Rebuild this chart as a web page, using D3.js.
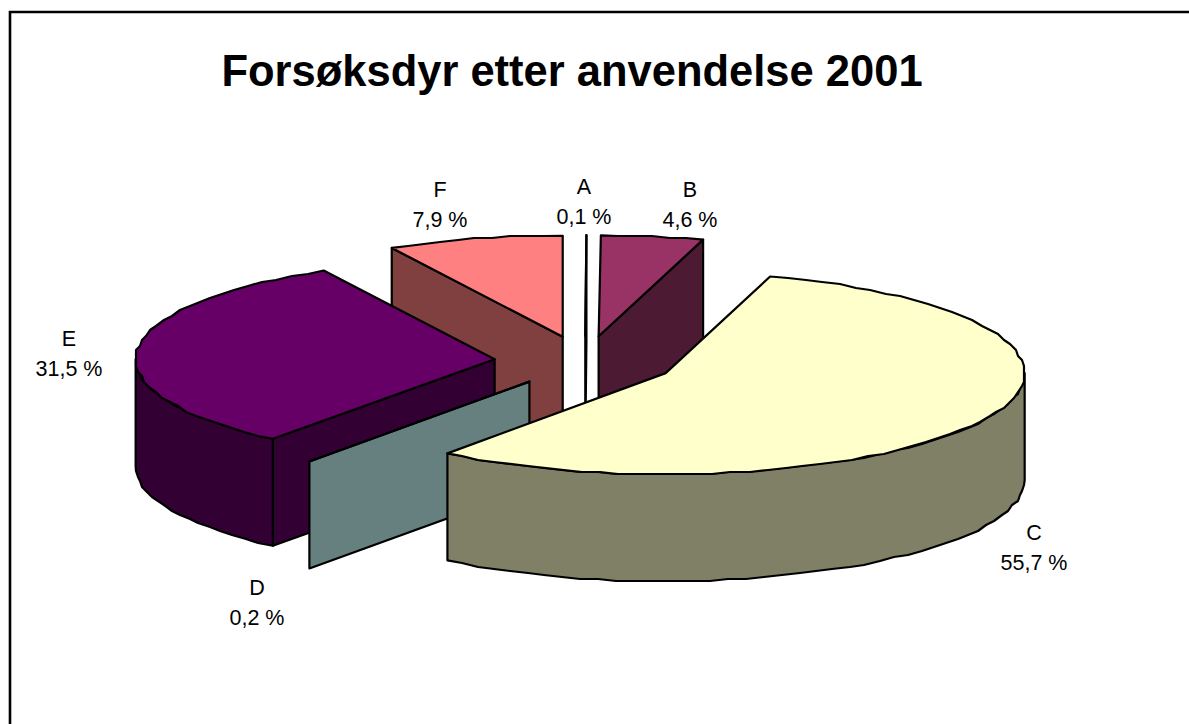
<!DOCTYPE html>
<html>
<head>
<meta charset="utf-8">
<style>
  html, body { margin: 0; padding: 0; background: #fff; }
  svg { display: block; }
  text { font-family: "Liberation Sans", Arial, sans-serif; fill: #000; }
</style>
</head>
<body>
<svg id="chart"></svg>
<script src="https://cdn.jsdelivr.net/npm/d3@7"></script>
<script>
const categories = ['A', 'B', 'C', 'D', 'E', 'F'];
const shares = [0.1, 4.6, 55.7, 0.2, 31.5, 7.9];
const topColors = ['#ffffff', '#993366', '#ffffcc', '#ccffff', '#660066', '#ff8080'];
const drawOrder = ['A', 'B', 'F', 'E', 'D', 'C'];
const chartTitle = 'Forsøksdyr etter anvendelse 2001';

const width = 1189;
const height = 724;

// pie geometry
const cx = 585, cy = 361.5;
const rx = 359, ry = 101;
const depth = 107;
const explode = 0.2526;
const step = 3;   // degrees between rim points
const grid = 2;   // rim points snap to this, gives the rough outline

// label anchors by category (first line baseline)
const labelPos = {
  A: [584, 194], B: [690, 197], C: [1034, 540],
  D: [257, 595], E: [69, 346], F: [440, 197]
};

const svg = d3.select('#chart').attr('width', width).attr('height', height);

// frame: only top and left edges are inside the picture
svg.append('path')
  .attr('d', `M${width},12H10V${height}`)
  .attr('fill', 'none')
  .attr('stroke', '#000')
  .attr('stroke-width', 2.6);

svg.append('text')
  .attr('x', 572)
  .attr('y', 86)
  .attr('text-anchor', 'middle')
  .attr('font-size', 43.5)
  .attr('font-weight', 'bold')
  .text(chartTitle);

const xscale = d3.scaleLinear().domain([-1, 1]).range([cx - rx, cx + rx]);
const yscale = d3.scaleLinear().domain([-1, 1]).range([cy - ry, cy + ry]);

const pie = d3.pie().sort(null).value((d) => d.share);
const slices = pie(categories.map((key, i) => ({key, share: shares[i], color: topColors[i]})));

const snap = (v) => Math.round(v / grid) * grid;
const line = d3.line();
const DEG = Math.PI / 180;

function halfColor(color) {
  const c = d3.rgb(color);
  return d3.rgb(c.r / 2, c.g / 2, c.b / 2).formatHex();
}

function createSlice(s) {
  const mid = (s.startAngle + s.endAngle) / 2;
  // very small slices collapse to one cut face
  const thin = s.endAngle - s.startAngle < DEG;
  const start = thin ? mid : s.startAngle;
  const end = thin ? mid : s.endAngle;

  const ox = explode * Math.sin(mid);
  const oy = -explode * Math.cos(mid);
  const tip = [xscale(ox), yscale(oy)];
  const point = (a) => [xscale(ox + Math.sin(a)), yscale(oy - Math.cos(a))];
  const down = (p) => [p[0], p[1] + depth];

  // rim points from a0 to a1, end points stay exact
  function rim(a0, a1) {
    const pts = [point(a0)];
    const n = Math.max(1, Math.ceil((a1 - a0) / (step * DEG)));
    d3.range(1, n).forEach((i) => {
      const p = point(a0 + (a1 - a0) * i / n);
      pts.push([snap(p[0]), snap(p[1])]);
    });
    pts.push(point(a1));
    return pts;
  }

  const top = rim(start, end);
  const walls = [];

  // radial cut faces, only when they look toward the viewer
  if (Math.sin(start) < -1e-6) {
    const p = point(start);
    walls.push([tip, p, down(p), down(tip)]);
  }
  if (Math.sin(end) > 1e-6) {
    const p = point(end);
    walls.push([tip, p, down(p), down(tip)]);
  }

  // outer wall for the front half of the rim
  const a0 = Math.max(start, 90 * DEG);
  const a1 = Math.min(end, 270 * DEG);
  if (a1 > a0) {
    const front = rim(a0, a1);
    walls.push(front.concat(front.map(down).reverse()));
  }

  return {walls, face: [tip].concat(top)};
}

const byKey = new Map(slices.map((s) => [s.data.key, s]));

const g = svg.selectAll('g.slice')
  .data(drawOrder.map((key) => byKey.get(key)))
  .join('g')
  .attr('class', 'slice')
  .attr('stroke', '#000')
  .attr('stroke-width', 2.2)
  .attr('stroke-linejoin', 'round');

g.each(function (s) {
  const shape = createSlice(s);
  const el = d3.select(this);
  el.selectAll('path.wall')
    .data(shape.walls)
    .join('path')
    .attr('class', 'wall')
    .attr('fill', halfColor(s.data.color))
    .attr('d', (d) => line(d) + 'Z');
  el.append('path')
    .attr('class', 'face')
    .attr('fill', s.data.color)
    .attr('d', line(shape.face) + 'Z');
});

// labels
const labels = svg.selectAll('text.label')
  .data(slices)
  .join('text')
  .attr('class', 'label')
  .attr('text-anchor', 'middle')
  .attr('font-size', 21.5);

labels.append('tspan')
  .attr('x', (d) => labelPos[d.data.key][0])
  .attr('y', (d) => labelPos[d.data.key][1])
  .text((d) => d.data.key);

labels.append('tspan')
  .attr('x', (d) => labelPos[d.data.key][0])
  .attr('y', (d) => labelPos[d.data.key][1] + 29.5)
  .text((d) => d.data.share.toFixed(1).replace('.', ',') + ' %');
</script>
</body>
</html>
